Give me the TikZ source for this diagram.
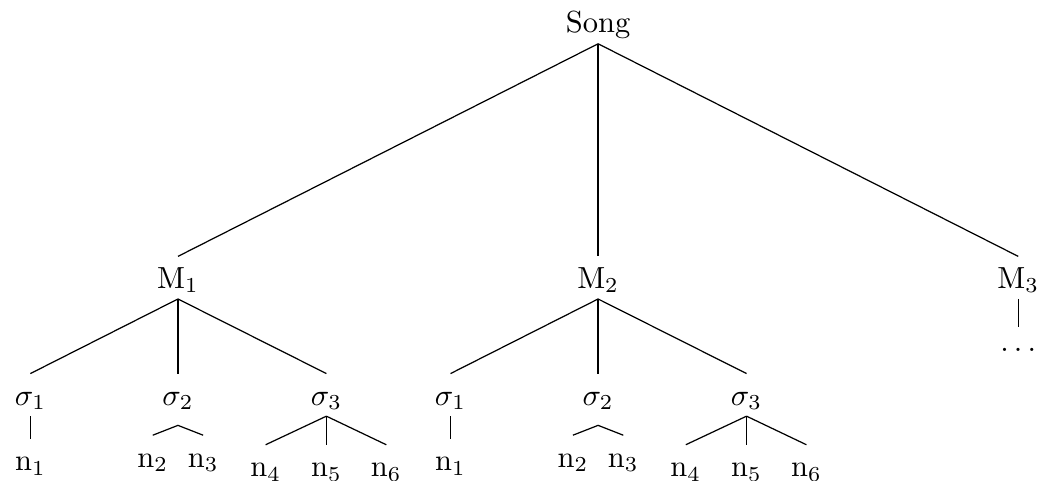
\documentclass[tikz,border=0pt]{standalone}
\usetikzlibrary{positioning}
\begin{document}
\begin{tikzpicture}[
          lbl/.style={anchor=base, text height=1.6ex, text depth=0pt},
          branch/.style={draw, line width=0.4pt}
        ]
        \useasboundingbox (0,0) rectangle (12.05,-5.54);

        % root and movements
        \node[lbl] (song) at (6.89,-0.38) {Song};
        \node[lbl] (m1) at (2.05,-3.32) {M$_1$};
        \node[lbl] (m2) at (6.89,-3.32) {M$_2$};
        \node[lbl] (m3) at (11.73,-3.32) {M$_3$};
        \node[anchor=base, text height=1ex, text depth=0pt] (dots3) at (11.73,-4.045) {$\dots$};

        % sections of M1
        \node[lbl] (s11) at (0.35,-4.67) {$\sigma_1$};
        \node[lbl] (s12) at (2.05,-4.67) {$\sigma_2$};
        \node[lbl] (s13) at (3.76,-4.67) {$\sigma_3$};
        \node[lbl] (n11) at (0.35,-5.42) {n$_1$};
        \node[lbl] (n12) at (1.76,-5.38) {n$_2$};
        \node[lbl] (n13) at (2.34,-5.38) {n$_3$};
        \node[lbl] (n14) at (3.06,-5.49) {n$_4$};
        \node[lbl] (n15) at (3.76,-5.49) {n$_5$};
        \node[lbl] (n16) at (4.45,-5.49) {n$_6$};
        \coordinate (a12) at (2.05,-4.90);

        % sections of M2
        \node[lbl] (s21) at (5.19,-4.67) {$\sigma_1$};
        \node[lbl] (s22) at (6.89,-4.67) {$\sigma_2$};
        \node[lbl] (s23) at (8.60,-4.67) {$\sigma_3$};
        \node[lbl] (n21) at (5.19,-5.42) {n$_1$};
        \node[lbl] (n22) at (6.60,-5.38) {n$_2$};
        \node[lbl] (n23) at (7.18,-5.38) {n$_3$};
        \node[lbl] (n24) at (7.90,-5.49) {n$_4$};
        \node[lbl] (n25) at (8.60,-5.49) {n$_5$};
        \node[lbl] (n26) at (9.29,-5.49) {n$_6$};
        \coordinate (a22) at (6.89,-4.90);

        \draw[branch] (song.south) -- (m1.north);
        \draw[branch] (song.south) -- (m2.north);
        \draw[branch] (song.south) -- (m3.north);
        \draw[branch] (m3.south) -- (dots3.north);

        \draw[branch] (m1.south) -- (s11.north);
        \draw[branch] (m1.south) -- (s12.north);
        \draw[branch] (m1.south) -- (s13.north);
        \draw[branch] (s11.south) -- (n11.north);
        \draw[branch] (n12.north) -- (a12) -- (n13.north);
        \draw[branch] (s13.south) -- (n14.north);
        \draw[branch] (s13.south) -- (n15.north);
        \draw[branch] (s13.south) -- (n16.north);

        \draw[branch] (m2.south) -- (s21.north);
        \draw[branch] (m2.south) -- (s22.north);
        \draw[branch] (m2.south) -- (s23.north);
        \draw[branch] (s21.south) -- (n21.north);
        \draw[branch] (n22.north) -- (a22) -- (n23.north);
        \draw[branch] (s23.south) -- (n24.north);
        \draw[branch] (s23.south) -- (n25.north);
        \draw[branch] (s23.south) -- (n26.north);
      \end{tikzpicture}
\end{document}
